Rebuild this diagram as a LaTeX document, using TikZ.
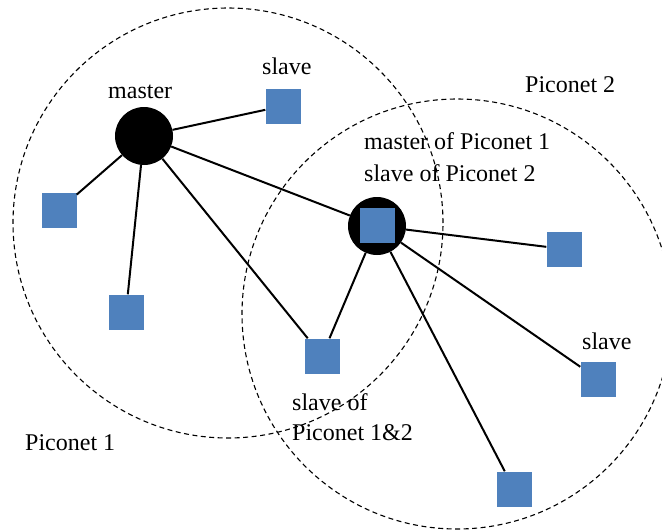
\documentclass[tikz,border=0pt]{standalone}
\usepackage{fontspec}
\setmainfont{Liberation Serif}
\begin{document}
\begin{tikzpicture}[x=1pt,y=-1pt,
  slavebox/.style={rectangle,fill=sqblue,minimum size=35pt,inner sep=0pt},
  masterdot/.style={circle,fill=black,minimum size=58pt,inner sep=0pt},
  picorange/.style={draw,line width=1.1pt,dash pattern=on 5pt off 3.5pt},
  link/.style={line width=2pt},
  lbl/.style={inner sep=0pt,anchor=base west,font=\fontsize{24}{28}\selectfont}]
\definecolor{sqblue}{HTML}{4F81BD}
\useasboundingbox (0,0) rectangle (662,531);
\fill[white] (0,0) rectangle (662,531);
% ranges
\draw[picorange] (228,223) circle[radius=215pt];
\draw[picorange] (457,314) circle[radius=215pt];
% nodes
\node[masterdot] (m1) at (144,136) {};
\node[masterdot] (m2) at (377,226) {};
\node[slavebox] (m2s) at (377,225) {};
\node[slavebox] (s1) at (283,106) {};
\node[slavebox] (s2) at (59,210) {};
\node[slavebox] (s3) at (126,312) {};
\node[slavebox] (s4) at (322,356) {};
\node[slavebox] (s5) at (564,249) {};
\node[slavebox] (s6) at (598,379) {};
\node[slavebox] (s7) at (514,489) {};
% links
\draw[link] (m1) -- (s1);
\draw[link] (m1) -- (s2);
\draw[link] (m1) -- (s3);
\draw[link] (m1) -- (s4);
\draw[link] (m1) -- (m2);
\draw[link] (m2) -- (s4);
\draw[link] (m2) -- (s5);
\draw[link] (m2) -- (s6);
\draw[link] (m2) -- (s7);
% labels
\node[lbl] (tmaster) at (108,98) {master};
\node[lbl] (tslave1) at (262,74) {slave};
\node[lbl] (tpico2) at (525,92) {Piconet 2};
\node[lbl] (tm2a) at (364,149) {master of Piconet 1};
\node[lbl] (tm2b) at (364,181) {slave of Piconet 2};
\node[lbl] (tslave2) at (582,349) {slave};
\node[lbl] (tboth1) at (292,410) {slave of};
\node[lbl] (tboth2) at (292,440) {Piconet 1\&2};
\node[lbl] (tpico1) at (25,450) {Piconet 1};
\end{tikzpicture}
\end{document}
